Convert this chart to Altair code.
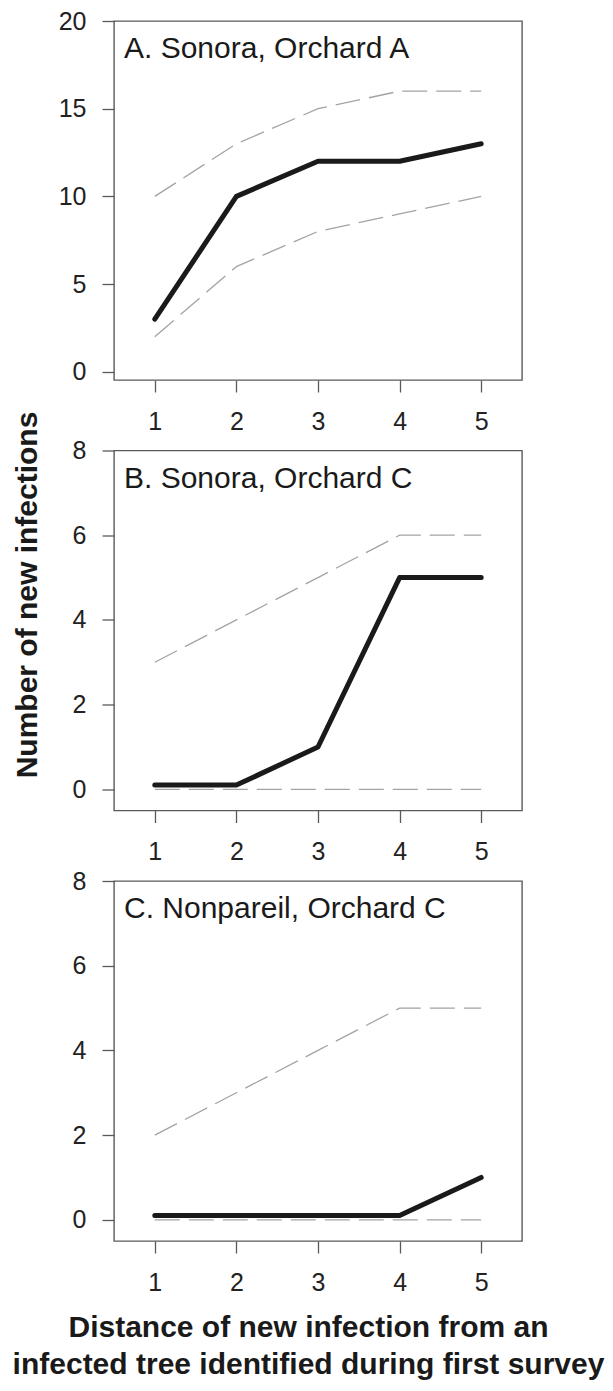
import altair as alt
import pandas as pd

# ---- data ----
distance = [1, 2, 3, 4, 5]

a_mean = [3, 10, 12, 12, 13]
a_upper = [10, 13, 15, 16, 16]
a_lower = [2, 6, 8, 9, 10]

b_mean = [0.1, 0.1, 1, 5, 5]
b_upper = [3, 4, 5, 6, 6]
b_lower = [0, 0, 0, 0, 0]

c_mean = [0.1, 0.1, 0.1, 0.1, 1]
c_upper = [2, 3, 4, 5, 5]
c_lower = [0, 0, 0, 0, 0]

panel_titles = ["A. Sonora, Orchard A", "B. Sonora, Orchard C", "C. Nonpareil, Orchard C"]
x_ticks = [1, 2, 3, 4, 5]
a_ticks = [0, 5, 10, 15, 20]
bc_ticks = [0, 2, 4, 6, 8]
a_domain = [-0.47, 20]
bc_domain = [-0.5, 8]
y_title = "Number of new infections"
x_title = ["Distance of new infection from an", "infected tree identified during first survey"]

FONT = "Liberation Sans"
W = 408


def panel(mean, upper, lower, title, ydomain, yticks, height, x_axis_title=None, y_axis_title=None):
    bounds_df = pd.DataFrame({
        "distance": distance + distance,
        "value": upper + lower,
        "bound": ["upper"] * len(upper) + ["lower"] * len(lower),
    })
    mean_df = pd.DataFrame({"distance": distance, "value": mean})
    title_df = pd.DataFrame({"label": [title]})

    if x_axis_title is None:
        xaxis = alt.Axis(values=x_ticks, title=None)
    else:
        xaxis = alt.Axis(values=x_ticks, title=x_axis_title, titleX=194, titleY=95,
                         titleAlign="center", titleBaseline="alphabetic",
                         titleLineHeight=37, titleFontSize=30, titleFontWeight="bold",
                         titleFont=FONT, titleColor="#1a1a1a")
    if y_axis_title is None:
        yaxis = alt.Axis(values=yticks, title=None)
    else:
        yaxis = alt.Axis(values=yticks, title=y_axis_title, titleX=-78, titleY=144,
                         titleAngle=270, titleAlign="center", titleBaseline="alphabetic",
                         titleFontSize=30, titleFontWeight="bold", titleFont=FONT,
                         titleColor="#1a1a1a")

    x = alt.X("distance:Q", scale=alt.Scale(domain=[0.5, 5.5], nice=False, zero=False), axis=xaxis)
    y = alt.Y("value:Q", scale=alt.Scale(domain=ydomain, nice=False, zero=False), axis=yaxis)

    dashed = alt.Chart(bounds_df).mark_line(
        color="#a3a3a3", strokeWidth=1.3, strokeDash=[25, 9]
    ).encode(x=x, y=y, detail="bound:N")

    solid = alt.Chart(mean_df).mark_line(
        color="#1a1a1a", strokeWidth=5, strokeCap="round", strokeJoin="round"
    ).encode(x=x, y=y)

    label = alt.Chart(title_df).mark_text(
        align="left", baseline="alphabetic", fontSize=30, font=FONT, color="#1a1a1a"
    ).encode(x=alt.value(10), y=alt.value(37), text="label:N")

    return alt.layer(dashed, solid, label).properties(width=W, height=height)


pa = panel(a_mean, a_upper, a_lower, panel_titles[0], a_domain, a_ticks, 359)
pb = panel(b_mean, b_upper, b_lower, panel_titles[1], bc_domain, bc_ticks, 360, y_axis_title=y_title)
pc = panel(c_mean, c_upper, c_lower, panel_titles[2], bc_domain, bc_ticks, 360, x_axis_title=x_title)

chart = alt.vconcat(pa, pb, pc, spacing=70.5, bounds="flush").properties(
    padding={"left": 3, "top": 0, "right": 0, "bottom": 0}
).configure_view(
    stroke="#5a5a5a", strokeWidth=1.4
).configure_axis(
    domain=False, grid=False, ticks=True, tickSize=12, tickColor="#5a5a5a", tickWidth=1.3,
    labelFont=FONT, labelFontSize=25, labelColor="#222222"
).configure_axisY(
    labelPadding=16
).configure_axisX(
    labelPadding=17
)

chart.save("out.html", embed_options={"renderer": "svg", "actions": False})
